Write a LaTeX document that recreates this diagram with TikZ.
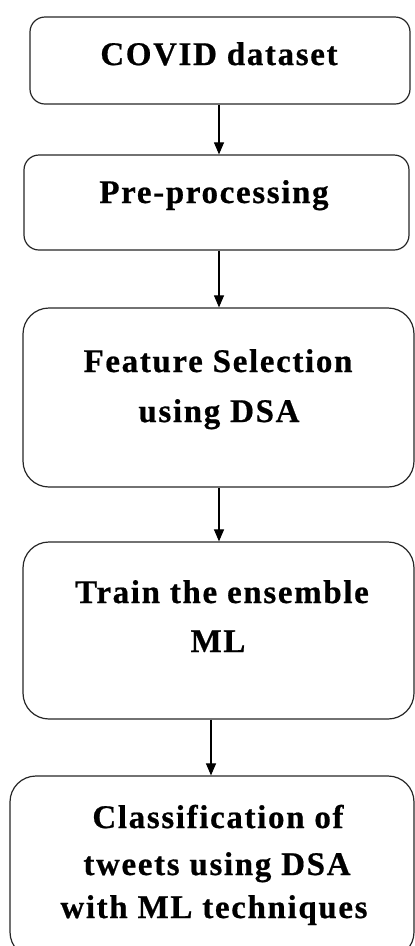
\documentclass[tikz,border=0pt]{standalone}
\usepackage{fontspec}
\setmainfont{Liberation Serif}[LetterSpace=5,FakeBold=0.6]
\usetikzlibrary{arrows.meta}
\begin{document}
\begin{tikzpicture}[x=1pt,y=-1pt,
  stage/.style={draw=black!85, line width=1.2pt},
  label/.style={anchor=base, inner sep=0pt, font=\fontsize{33}{40}\selectfont\bfseries},
  flow/.style={draw=black, line width=1.1pt, -{Triangle[width=10pt,length=12pt]}}]
  \useasboundingbox (0,0) rectangle (415,946);
  \clip (0,0) rectangle (415,946);

  % process stages
  \node[stage, rounded corners=15pt, minimum width=380pt, minimum height=87pt, inner sep=0pt] (s1) at (220,60.5) {};
  \node[stage, rounded corners=15pt, minimum width=385pt, minimum height=95pt, inner sep=0pt] (s2) at (216.5,202.5) {};
  \node[stage, rounded corners=26pt, minimum width=391pt, minimum height=179pt, inner sep=0pt] (s3) at (218.5,397.5) {};
  \node[stage, rounded corners=26pt, minimum width=391pt, minimum height=177pt, inner sep=0pt] (s4) at (218.5,630.5) {};
  \node[stage, rounded corners=26pt, minimum width=404pt, minimum height=182pt, inner sep=0pt] (s5) at (212,867) {};

  % stage labels
  \node[label] (l1) at (219,65) {COVID dataset};
  \node[label] (l2) at (214,203) {Pre-processing};
  \node[label] (l3a) at (218,372) {Feature Selection};
  \node[label] (l3b) at (219,422) {using DSA};
  \node[label] (l4a) at (222,603) {Train the ensemble};
  \node[label] (l4b) at (218,652) {ML};
  \node[label] (l5a) at (218,828) {Classification of};
  \node[label] (l5b) at (217,875) {tweets using DSA};
  \node[label] (l5c) at (214,918) {with ML techniques};

  % connectors
  \draw[flow] (s1.south -| 219,0) -- (s2.north -| 219,0);
  \draw[flow] (s2.south -| 219,0) -- (s3.north -| 219,0);
  \draw[flow] (s3.south -| 219,0) -- (s4.north -| 219,0);
  \draw[flow] (s4.south -| 211,0) -- (s5.north -| 211,0);
\end{tikzpicture}
\end{document}
